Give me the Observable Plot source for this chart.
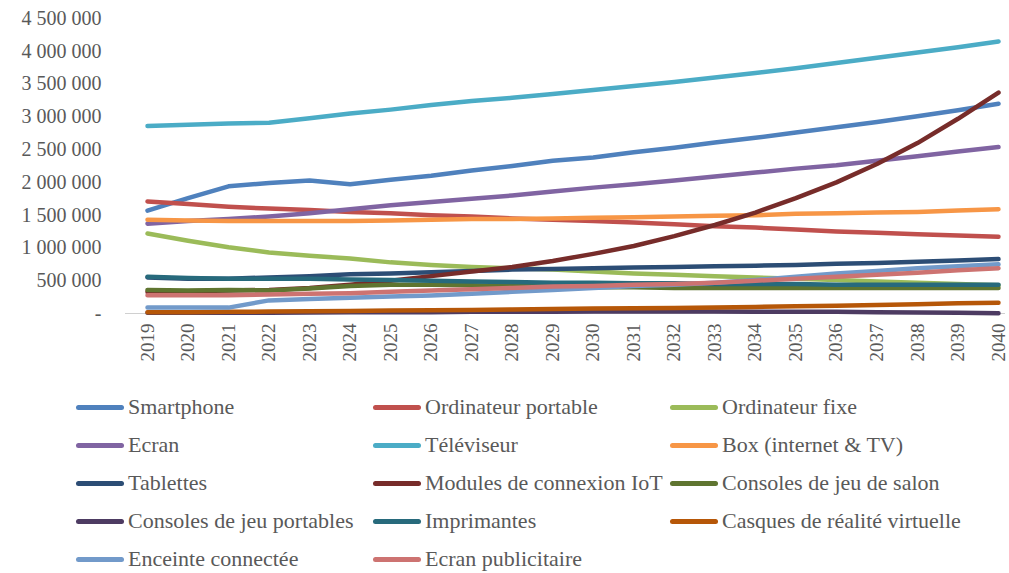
<!DOCTYPE html>
<html>
<head>
<meta charset="utf-8">
<script src="https://cdn.jsdelivr.net/npm/d3@7"></script>
<script src="https://cdn.jsdelivr.net/npm/@observablehq/plot@0.6"></script>
<style>
  html, body { margin: 0; padding: 0; background: #fff; }
  #chart { width: 1009px; }
  .legend { display: grid; grid-template-columns: 297px 297px 297px; padding-left: 76px; margin-top: 8px; }
  .item { display: flex; align-items: center; height: 38px; font-family: "Liberation Serif", serif; font-size: 22px; color: #595959; white-space: nowrap; }
  .sw { display: inline-block; width: 48px; height: 5px; border-radius: 3px; margin-right: 4px; flex: none; }
</style>
</head>
<body>
<div id="chart"></div>
<script>
const years = [2019,2020,2021,2022,2023,2024,2025,2026,2027,2028,2029,2030,2031,2032,2033,2034,2035,2036,2037,2038,2039,2040];
const yTicks = [0,500000,1000000,1500000,2000000,2500000,3000000,3500000,4000000,4500000];

const series = ["Smartphone","Ordinateur portable","Ordinateur fixe","Ecran","Téléviseur","Box (internet & TV)","Tablettes","Modules de connexion IoT","Consoles de jeu de salon","Consoles de jeu portables","Imprimantes","Casques de réalité virtuelle","Enceinte connectée","Ecran publicitaire"];
const colors = ["#4F81BD","#C0504D","#9BBB59","#8064A2","#4BACC6","#F79646","#2C4D75","#772C2A","#5F7530","#4D3B62","#276A7C","#B65708","#729ACA","#CD7371"];

const smartphone = [1570000,1760000,1940000,1990000,2030000,1970000,2040000,2100000,2180000,2250000,2330000,2380000,2460000,2530000,2610000,2680000,2760000,2840000,2920000,3010000,3100000,3200000];
const ordinateurPortable = [1710000,1670000,1630000,1600000,1580000,1550000,1530000,1500000,1480000,1450000,1430000,1410000,1390000,1360000,1330000,1310000,1280000,1250000,1230000,1210000,1190000,1170000];
const ordinateurFixe = [1220000,1110000,1010000,930000,880000,840000,780000,740000,710000,690000,670000,640000,610000,590000,570000,550000,530000,510000,490000,470000,450000,430000];
const ecran = [1370000,1410000,1440000,1480000,1530000,1590000,1650000,1700000,1750000,1800000,1860000,1920000,1970000,2030000,2090000,2150000,2210000,2260000,2330000,2400000,2470000,2540000];
const televiseur = [2860000,2880000,2900000,2910000,2980000,3050000,3110000,3180000,3240000,3290000,3350000,3410000,3470000,3530000,3600000,3670000,3740000,3820000,3900000,3980000,4060000,4150000];
const box = [1430000,1420000,1410000,1410000,1410000,1410000,1420000,1430000,1440000,1440000,1450000,1460000,1470000,1480000,1490000,1500000,1520000,1530000,1540000,1550000,1570000,1590000];
const tablettes = [550000,530000,530000,550000,570000,600000,610000,630000,650000,670000,680000,690000,700000,710000,720000,730000,740000,760000,770000,790000,810000,830000];
const modulesIoT = [330000,340000,350000,360000,390000,440000,500000,570000,640000,710000,800000,910000,1030000,1180000,1350000,1540000,1760000,2000000,2280000,2600000,2970000,3370000];
const consolesSalon = [360000,350000,360000,350000,380000,420000,440000,440000,430000,420000,410000,400000,400000,390000,390000,390000,390000,390000,390000,390000,390000,390000];
const consolesPortables = [10000,10000,10000,10000,15000,20000,20000,20000,25000,25000,25000,30000,30000,30000,30000,25000,25000,25000,20000,15000,10000,5000];
const imprimantes = [560000,540000,530000,530000,530000,520000,510000,500000,490000,480000,470000,470000,460000,460000,450000,450000,450000,440000,440000,440000,440000,440000];
const casquesVR = [20000,20000,25000,30000,35000,40000,45000,50000,55000,60000,70000,75000,80000,85000,90000,100000,110000,120000,130000,140000,155000,165000];
const enceinte = [90000,90000,90000,200000,220000,240000,260000,275000,300000,330000,360000,390000,420000,440000,470000,510000,560000,610000,650000,690000,720000,750000];
const ecranPub = [280000,280000,280000,290000,300000,310000,330000,350000,370000,390000,410000,420000,440000,450000,470000,500000,530000,560000,590000,620000,660000,690000];

const values = [smartphone, ordinateurPortable, ordinateurFixe, ecran, televiseur, box, tablettes, modulesIoT, consolesSalon, consolesPortables, imprimantes, casquesVR, enceinte, ecranPub];

const data = series.flatMap((s, i) => years.map((y, j) => ({serie: s, year: y, value: values[i][j]})));

const fmt = d => d === 0 ? "-" : d3.format(",")(d).replace(/,/g, " ");

const chart = Plot.plot({
  width: 1009,
  height: 380,
  marginLeft: 125,
  marginRight: 4,
  marginTop: 18,
  marginBottom: 67,
  x: {domain: [2019, 2040], insetLeft: 22, insetRight: 7},
  y: {domain: [0, 4500000]},
  color: {domain: series, range: colors},
  style: {fontFamily: "'Liberation Serif', serif", fontSize: "20px", color: "#595959", background: "#fff"},
  marks: [
    Plot.ruleY([0], {stroke: "#d0d0d0", strokeWidth: 1.2}),
    Plot.axisY({ticks: yTicks, tickSize: 0, tickPadding: 24, tickFormat: fmt, label: null, fontSize: 20}),
    Plot.axisX({ticks: years, tickSize: 0, tickRotate: -90, tickPadding: 10, tickFormat: d => String(d), label: null, fontSize: 19, style: "letter-spacing:2px"}),
    Plot.line(data, {x: "year", y: "value", z: "serie", stroke: "serie", strokeWidth: 4.5, strokeLinecap: "round", strokeLinejoin: "round"})
  ]
});
document.getElementById("chart").appendChild(chart);

const legend = document.createElement("div");
legend.className = "legend";
series.forEach((s, i) => {
  const item = document.createElement("div");
  item.className = "item";
  const sw = document.createElement("span");
  sw.className = "sw";
  sw.style.background = colors[i];
  item.appendChild(sw);
  item.appendChild(document.createTextNode(s));
  legend.appendChild(item);
});
document.getElementById("chart").appendChild(legend);
</script>
</body>
</html>
